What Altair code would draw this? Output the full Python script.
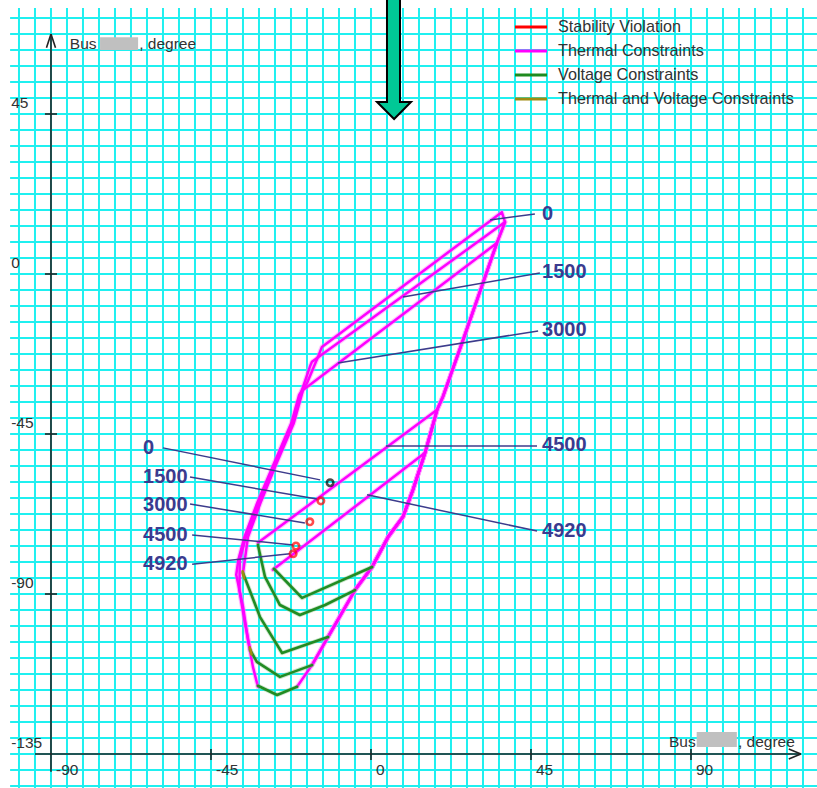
import altair as alt
import numpy as np
import pandas as pd

# ---------------------------------------------------------------------------
# Security-region boundaries on the (bus angle, bus angle) plane, in degrees.
# All loading levels share the right-hand (thermal) edge below.
# ---------------------------------------------------------------------------
levels = ["0", "1500", "3000", "4500", "4920"]

right_edge = [(37.7, 14.6), (35.4, 8.7), (31.5, -2.5), (25.6, -19.4), (20.2, -34.6),
              (18.6, -38.2), (15.2, -50.3), (11.8, -60.7), (9.0, -68.3), (4.8, -74.0),
              (0.3, -82.4), (-4.5, -88.9), (-12.1, -102.1), (-16.6, -110.0), (-20.8, -116.1)]

# index range of the shared right edge used by each level (top, bottom)
edge_span = {"0": (0, 14), "1500": (0, 13), "3000": (1, 12), "4500": (5, 11), "4920": (6, 10)}

# upper / left thermal boundary of each level
thermal_side = {
    "0": [(36.8, 17.4), (-13.8, -20.5), (-14.9, -23.3), (-18.0, -30.7), (-20.2, -34.0),
          (-22.4, -41.9), (-27.2, -53.1), (-32.0, -64.4), (-35.6, -74.0), (-37.3, -80.4),
          (-37.9, -84.6), (-36.0, -93.6), (-34.6, -102.9), (-33.2, -110.5), (-31.8, -116.1)],
    "1500": [(-16.6, -24.7), (-17.2, -26.1), (-19.8, -33.8), (-22.0, -41.9), (-26.8, -53.1),
             (-31.6, -64.4), (-35.2, -74.0), (-36.9, -80.4), (-37.0, -88.9), (-35.6, -97.3),
             (-34.0, -105.7)],
    "3000": [(-19.1, -32.6), (-21.7, -41.9), (-26.5, -53.1), (-31.1, -64.4), (-34.6, -74.0),
             (-36.0, -84.1)],
    "4500": [(-31.8, -75.6)],
    "4920": [(-27.6, -83.2)],
}

# lower (voltage) boundary of each level
voltage_side = {
    "0": [(-31.8, -115.8), (-26.4, -118.4), (-20.8, -116.1)],
    "1500": [(-34.0, -105.7), (-32.1, -109.1), (-25.6, -113.3), (-16.6, -110.0)],
    "3000": [(-36.0, -84.1), (-31.2, -96.5), (-25.0, -106.6), (-12.1, -102.1)],
    "4500": [(-31.8, -76.2), (-29.8, -85.2), (-25.6, -93.1), (-20.0, -95.9), (-12.9, -93.1),
             (-4.5, -88.9)],
    "4920": [(-27.3, -82.9), (-19.4, -91.1), (0.3, -82.4)],
}

# short pieces where thermal and voltage limits coincide
thermal_voltage = [[(-34.1, -105.0), (-33.6, -107.0)], [(-36.1, -83.6), (-35.7, -85.6)]]

# operating points for each loading level
op_x = [-11.5, -14.1, -17.2, -21.1, -21.9]
op_y = [-58.7, -63.8, -69.7, -76.5, -78.7]
op_state = ["stable", "violation", "violation", "violation", "violation"]

# callouts: label anchor and leader end points
left_label_y = [-48.9, -57.1, -65.0, -73.4, -81.6]
left_leaders = [(-58.5, -48.9, -14.3, -57.9), (-50.9, -57.1, -15.2, -63.3),
                (-50.9, -64.7, -18.6, -70.0), (-50.3, -73.4, -21.9, -76.2),
                (-50.3, -81.6, -22.8, -78.7)]
right_label_y = [16.9, 0.6, -15.7, -48.1, -72.3]
right_leaders = [(33.5, 15.2, 46.1, 16.9), (9.0, -6.5, 47.5, 0.3), (-9.3, -25.0, 47.0, -16.0),
                 (4.2, -48.4, 46.7, -48.4), (-1.1, -62.1, 46.7, -72.3)]

axis_ticks = [-90, -45, 0, 45, 90]
y_ticks = [45, 0, -45, -90, -135]

legend_labels = ["Stability Violation", "Thermal Constraints", "Voltage Constraints",
                 "Thermal and Voltage Constraints"]
legend_colors = ["#ff0000", "#ff00ff", "#1f8a1f", "#a08c10"]

# downward pointer outline
pointer = [(4.5, 79.0), (4.5, 48.4), (1.7, 48.4), (6.5, 43.6), (11.25, 48.4), (8.16, 48.4),
           (8.16, 79.0)]

# ---------------------------------------------------------------------------
W, H = 817, 788
XMIN, XMAX = -104.34, 125.44
YMIN, YMAX = -144.56, 77.06
xs = alt.Scale(domain=[XMIN, XMAX], nice=False, zero=False)
ys = alt.Scale(domain=[YMIN, YMAX], nice=False, zero=False)
FONT = "Liberation Sans"
GRAY_TXT = "#333333"
NAVY = "#3b3b8f"


def XQ(f="x"):
    return alt.X(f"{f}:Q", scale=xs, axis=None)


def YQ(f="y"):
    return alt.Y(f"{f}:Q", scale=ys, axis=None)


def paths_df(paths):
    rows = []
    for g, pts in enumerate(paths):
        for i, (x, y) in enumerate(pts):
            rows.append({"g": g, "i": i, "x": x, "y": y})
    return pd.DataFrame(rows)


def path_layer(df, color, width, opacity=1.0):
    return alt.Chart(df).mark_line(color=color, strokeWidth=width, opacity=opacity,
                                   strokeJoin="round", strokeCap="round").encode(
        x=XQ(), y=YQ(), detail="g:N", order="i:Q")


def segs_df(segs):
    return pd.DataFrame(segs, columns=["x", "y", "x2", "y2"])


def rule_layer(df, color, width):
    return alt.Chart(df).mark_rule(color=color, strokeWidth=width).encode(
        x=XQ(), y=YQ(), x2="x2:Q", y2="y2:Q")


# grid
gx = np.arange(-99.0, 122.0, 4.5)
gy = np.arange(72.0, -145.0, -4.5)
grid_v = pd.DataFrame({"x": gx, "y": -144.6, "x2": gx, "y2": 74.8})
grid_h = pd.DataFrame({"x": -101.5, "y": gy, "x2": 125.5, "y2": gy})
grid = [rule_layer(grid_v, "#1ff0f0", 2), rule_layer(grid_h, "#1ff0f0", 2)]

# thermal and voltage boundaries
thermal_paths = []
for lv in levels:
    a, b = edge_span[lv]
    thermal_paths.append(list(reversed(right_edge[a:b + 1])) + thermal_side[lv])
thermal = paths_df(thermal_paths)
voltage = paths_df([voltage_side[lv] for lv in levels])
tv = paths_df(thermal_voltage)

bounds = [
    path_layer(thermal, "#ff7fff", 4.8, 0.45),
    path_layer(thermal, "#ff00ff", 2.5),
    path_layer(voltage, "#7cc07c", 4.4, 0.4),
    path_layer(voltage, "#228b22", 2.6),
    path_layer(tv, "#a08c10", 2.6),
]

# axes
axis_lines = segs_df([(-94.5, -135, 120.9, -135), (-90, -140, -90, 67.5),
                      (120.9, -135, 117.5, -133.6), (120.9, -135, 117.5, -136.4),
                      (-90, 67.5, -91.27, 63.6), (-90, 67.5, -88.73, 63.6)]
                     + [(t, -133.6, t, -136.7) for t in axis_ticks[1:]]
                     + [(-91.7, t, -88.3, t) for t in y_ticks[:-1]])
axes = [rule_layer(axis_lines, "#222222", 1.6)]

xlab = pd.DataFrame({"x": [t + 1.4 for t in axis_ticks], "y": -139.5,
                     "t": [str(t) for t in axis_ticks]})
ylab = pd.DataFrame({"x": -101.2, "y": [t + 3.1 for t in y_ticks],
                     "t": [str(t) for t in y_ticks]})
tick_text = [
    alt.Chart(d).mark_text(align="left", baseline="middle", font=FONT, fontSize=15.5,
                           color=GRAY_TXT).encode(x=XQ(), y=YQ(), text="t:N")
    for d in (xlab, ylab)
]

# axis titles with a masked bus name
title_txt = pd.DataFrame({"x": [-84.7, -65.2, 83.8, 103.2], "y": [64.7, 64.7, -131.6, -131.6],
                          "t": ["Bus", ", degree", "Bus", ", degree"]})
title_mask = pd.DataFrame({"x": [-76.2, 91.6], "x2": [-65.5, 102.9],
                           "y": [66.6, -128.8], "y2": [63.0, -133.0]})
titles = [
    alt.Chart(title_mask).mark_rect(color="#c0c0c0").encode(x=XQ(), y=YQ(), x2="x2:Q", y2="y2:Q"),
    alt.Chart(title_txt).mark_text(align="left", baseline="middle", font=FONT, fontSize=15.5,
                                   color=GRAY_TXT).encode(x=XQ(), y=YQ(), text="t:N"),
]

# legend
leg_y = [69.46 - 6.75 * k for k in range(len(legend_labels))]
leg = pd.DataFrame({"x": 40.5, "x2": 49.5, "y": leg_y, "lab": legend_labels,
                    "c": legend_colors, "tx": 52.6})
legend = [
    alt.Chart(leg).mark_rule(strokeWidth=3).encode(
        x=XQ(), x2="x2:Q", y=YQ(), color=alt.Color("c:N", scale=None)),
    alt.Chart(leg).mark_text(align="left", baseline="middle", font=FONT, fontSize=16.2,
                             color=GRAY_TXT).encode(x=XQ("tx"), y=YQ(), text="lab:N"),
]

# callouts
leaders = [rule_layer(segs_df(left_leaders + right_leaders), "#3c3c8c", 1.5)]
call = pd.DataFrame({"x": [-64.1] * 5 + [48.1] * 5, "y": left_label_y + right_label_y,
                     "t": levels + levels})
callouts = [alt.Chart(call).mark_text(align="left", baseline="middle", font=FONT,
                                      fontSize=20, fontWeight="bold", color=NAVY).encode(
    x=XQ(), y=YQ(), text="t:N")]

# operating points
ops = pd.DataFrame({"x": op_x, "y": op_y, "s": op_state})
points = [alt.Chart(ops).mark_point(shape="circle", filled=False, size=42, strokeWidth=2.6).encode(
    x=XQ(), y=YQ(),
    color=alt.Color("s:N", scale=alt.Scale(domain=["stable", "violation"],
                                           range=["#000000", "#ff0000"]), legend=None))]

# pointer
ptr = paths_df([pointer])
pointer_layer = [alt.Chart(ptr).mark_line(fill="#00c896", stroke="#000000", strokeWidth=2,
                                          strokeJoin="miter").encode(
    x=XQ(), y=YQ(), order="i:Q")]

chart = alt.layer(*(grid + legend + axes + tick_text + titles + bounds + leaders + points
                    + callouts + pointer_layer)).properties(
    width=W, height=H, padding=0, background="white",
    autosize=alt.AutoSizeParams(type="none"),
).configure_view(stroke=None)

chart.save("out.html", embed_options={"renderer": "svg", "actions": False})
